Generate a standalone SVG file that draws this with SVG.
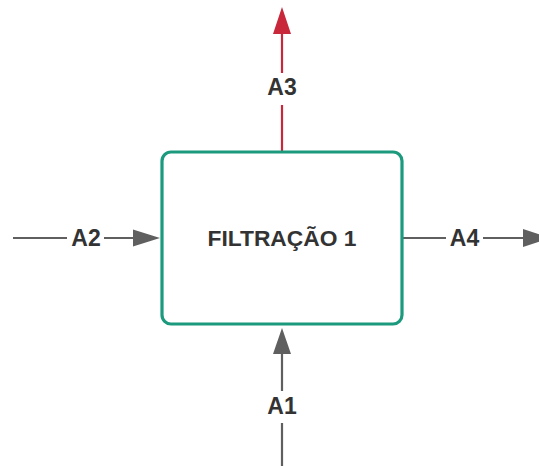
<svg xmlns="http://www.w3.org/2000/svg" width="539" height="466" viewBox="0 0 539 466">
<style>
.lbl{font-family:"Liberation Sans",Arial,sans-serif;font-weight:bold;font-size:23px;fill:#333333;text-anchor:middle;dominant-baseline:central}
.bg{fill:#ffffff}
.gray{stroke:#5f5f5f;stroke-width:2.2;fill:none}
.red{stroke:#c8283a;stroke-width:2.2;fill:none}
.ahg{fill:#5f5f5f}
.ahr{fill:#c8283a}
.box{fill:#ffffff;stroke:#1c9a7d;stroke-width:3.2}
.title{font-family:"Liberation Sans",Arial,sans-serif;font-weight:bold;font-size:22.8px;fill:#333333;text-anchor:middle;dominant-baseline:central}
</style>
<rect width="539" height="466" fill="#ffffff"/>
<g id="connectors">
  <g id="edge-A3">
    <line class="red" x1="282" y1="151" x2="282" y2="32"/>
    <polygon class="ahr" points="282,7 273,34 291,34"/>
    <rect class="bg" x="262" y="73" width="40" height="32"/>
    <text class="lbl" x="282" y="87">A3</text>
  </g>
  <g id="edge-A2">
    <line class="gray" x1="13" y1="238" x2="136" y2="238"/>
    <polygon class="ahg" points="160,238 133,229.5 133,246.5"/>
    <rect class="bg" x="67" y="225" width="37" height="26"/>
    <text class="lbl" x="86" y="238">A2</text>
  </g>
  <g id="edge-A4">
    <line class="gray" x1="403" y1="238" x2="526" y2="238"/>
    <polygon class="ahg" points="550,238 523,229 523,247"/>
    <rect class="bg" x="446" y="225" width="37" height="26"/>
    <text class="lbl" x="464.5" y="238">A4</text>
  </g>
  <g id="edge-A1">
    <line class="gray" x1="282" y1="466" x2="282" y2="350"/>
    <polygon class="ahg" points="282,328 273,354 291,354"/>
    <rect class="bg" x="262" y="391" width="40" height="32"/>
    <text class="lbl" x="282" y="406">A1</text>
  </g>
</g>
<g id="node-filtracao">
  <rect class="box" x="162" y="152" width="240" height="172" rx="9" ry="9"/>
  <text class="title" x="282" y="238">FILTRAÇÃO 1</text>
</g>
</svg>
